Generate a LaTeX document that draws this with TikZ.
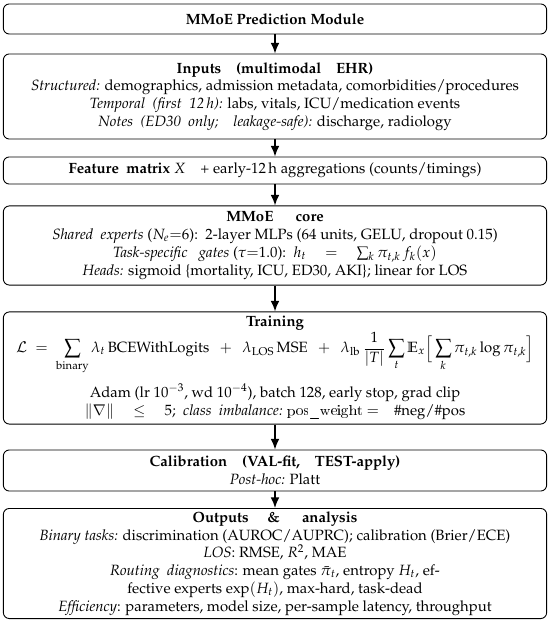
\documentclass[tikz,border=0pt]{standalone}
\usepackage[T1]{fontenc}
\usepackage{amsmath}
\usepackage{mathpazo}
\usepackage{tikz}
\usetikzlibrary{arrows.meta,positioning}

\begin{document}
\begin{tikzpicture}[
    x=0.02364cm, y=-0.02364cm,
    box/.style={rectangle, draw, rounded corners=4pt, line width=0.6pt, minimum width=12.81cm, text width=12.7cm, align=flush center, inner sep=2pt},
    arrow/.style={-{Latex[length=2.5mm,width=2.1mm]}, line width=1.2pt}
]
    \useasboundingbox (0,0) rectangle (550,630);

    % Pipeline stages, top to bottom
    \node[box, minimum height=0.71cm] (module) at (275,19) {\textbf{MMoE Prediction Module}};
    \node[box, minimum height=2.01cm] (inputs) at (275,96.5) {\textbf{Inputs\quad(multimodal\quad EHR)}\\
        \textit{Structured:} demographics, admission metadata, comorbidities/procedures\\
        \textit{Temporal\enspace(first\enspace 12\,h):} labs, vitals, ICU/medication events\\
        \textit{Notes\enspace(ED30\enspace only;\quad leakage-safe):} discharge, radiology};
    \node[box, minimum height=0.64cm] (features) at (275,170.5) {\textbf{Feature\enspace matrix} $X$\quad + early-12\,h aggregations (counts/timings)};
    \node[box, minimum height=1.87cm] (core) at (275,245.5) {\textbf{MMoE\quad\enspace core}\\
        \textit{Shared\enspace experts} ($N_e{=}6$):\enspace 2-layer MLPs (64 units, GELU, dropout 0.15)\\
        \textit{Task-specific\enspace\ gates} ($\tau{=}1.0$):\enspace $h_t \quad = \quad \sum_k \pi_{t,k}\, f_k(x)$\\
        \textit{Heads:} sigmoid \{mortality, ICU, ED30, AKI\}; linear for LOS};
    \node[box, minimum height=2.65cm] (training) at (275,368) {\textbf{Training}\\
        \mbox{$\displaystyle \mathcal{L} \;=\; \sum_{\text{binary}} \lambda_t\,\mathrm{BCEWithLogits} \enspace+\enspace \lambda_{\mathrm{LOS}}\,\mathrm{MSE} \enspace+\enspace \lambda_{\mathrm{lb}}\,\frac{1}{|T|}\sum_t \mathbb{E}_x\Bigl[\,\sum_k \pi_{t,k}\log\pi_{t,k}\Bigr]$}\\[6pt]
        Adam (lr $10^{-3}$, wd $10^{-4}$), batch 128, early stop, grad clip\\
        $\|\nabla\| \quad\le\quad 5$;\enspace\textit{class\enspace imbalance:} \texttt{pos\_weight} $=$\quad\#neg/\#pos};
    \node[box, minimum height=0.97cm] (calib) at (275,470.5) {\textbf{Calibration\quad(VAL-fit,\quad TEST-apply)}\\
        \textit{Post-hoc:} Platt};
    \node[box, minimum height=2.48cm] (outputs) at (275,563.5) {\textbf{Outputs\quad\ \&\quad\enspace analysis}\\
        \textit{Binary tasks:} discrimination (AUROC/AUPRC); calibration (Brier/ECE)\\
        \textit{LOS}: RMSE, $R^2$, MAE\\
        \textit{Routing\enspace diagnostics}: mean gates $\bar{\pi}_t$, entropy $H_t$, ef-\\
        fective experts $\exp(H_t)$, max-hard, task-dead\\
        \textit{Efficiency}: parameters, model size, per-sample latency, throughput};

    % Connectors between stages
    \draw[arrow] (module) -- (inputs);
    \draw[arrow] (inputs) -- (features);
    \draw[arrow] (features) -- (core);
    \draw[arrow] (core) -- (training);
    \draw[arrow] (training) -- (calib);
    \draw[arrow] (calib) -- (outputs);
\end{tikzpicture}
\end{document}
